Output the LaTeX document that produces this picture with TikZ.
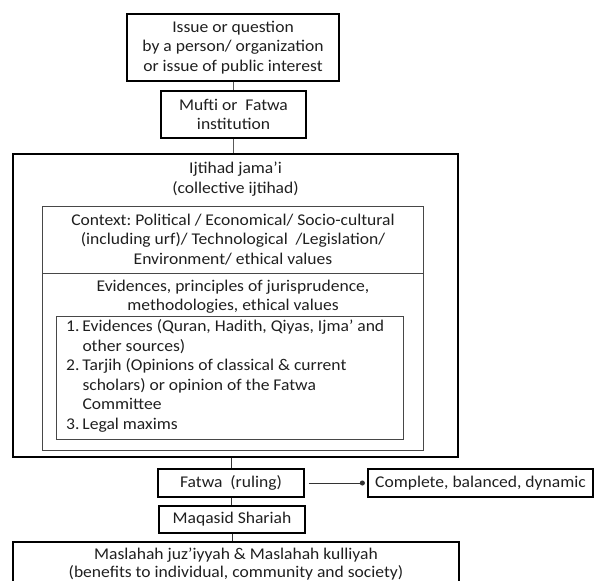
\documentclass[tikz,border=0pt]{standalone}
\usepackage{fontspec}
\setmainfont{Carlito}[FakeStretch=1.07]
\usetikzlibrary{arrows.meta}
\begin{document}
\begin{tikzpicture}[x=1bp,y=-1bp,
  box/.style={draw=black, line width=1.3bp, inner sep=0pt, align=center},
  gbox/.style={draw=black!72, line width=1bp, inner sep=0pt, align=center},
  txt/.style={inner sep=0pt, align=center},
  conn/.style={draw=black!65, line width=1bp},
  font=\fontsize{16.4bp}{19.5bp}\selectfont, text=black!88]
\useasboundingbox (0,0) rectangle (595,581);

\node[box, minimum width=212bp, minimum height=67bp] (issue) at (233,47.5)
  {Issue or question\\by a person/ organization\\or issue of public interest};
\node[box, minimum width=145bp, minimum height=47bp] (mufti) at (233.5,114.5)
  {Mufti or\ \ Fatwa\\institution};

\node[box, minimum width=445bp, minimum height=303bp] (ijt) at (235.5,305.5) {};
\node[txt] (ijttitle) at (235.5,179) {Ijtihad jama’i\\(collective ijtihad)};

\node[gbox, minimum width=380bp, minimum height=67bp] (context) at (233,239.5)
  {Context:\ Political / Economical/\ Socio-cultural\\(including urf)/ Technological\ \ /Legislation/\\Environment/\ ethical\ values};
\node[gbox, minimum width=380bp, minimum height=177bp] (evid) at (233,361.5) {};
\node[txt] (evidhead) at (233,296.5) {Evidences, principles of jurisprudence,\\methodologies,\ ethical\ values};
\node[gbox, minimum width=346bp, minimum height=123bp] (listbox) at (230,377.5) {};
\node[txt, anchor=west, align=left] (listtxt) at (66,376)
  {\makebox[16.3bp][l]{1.}Evidences (Quran, Hadith, Qiyas, Ijma’ and\\
   \hspace*{16.3bp}other sources)\\
   \makebox[16.3bp][l]{2.}Tarjih (Opinions of classical \& current\\
   \hspace*{16.3bp}scholars) or opinion of the Fatwa\\
   \hspace*{16.3bp}Committee\\
   \makebox[16.3bp][l]{3.}Legal maxims};

\node[box, minimum width=146bp, minimum height=28bp] (fatwa) at (231,483) {Fatwa\ \ (ruling)};
\node[box, minimum width=225bp, minimum height=28bp] (complete) at (480.5,483) {Complete,\ balanced,\ dynamic};
\node[box, minimum width=146bp, minimum height=27bp] (maqasid) at (232,519.5) {Maqasid\ Shariah};
\node[box, minimum width=446bp, minimum height=60bp] (maslahah) at (236,572) {};
\node[txt, font=\fontsize{16.4bp}{18bp}\selectfont] (maslahahtxt) at (236,564) {Maslahah juz’iyyah \& Maslahah kulliyah\\(benefits to individual,\ community and society)};

\draw[conn] (issue.south) -- (issue.south |- mufti.north);
\draw[conn] (mufti.south) -- (mufti.south |- ijt.north);
\draw[conn, draw=black!80] (fatwa.north |- ijt.south) -- (fatwa.north);
\draw[conn, draw=black!80] (fatwa.south) -- (fatwa.south |- maqasid.north);
\draw[conn, draw=black!80] (maqasid.south) -- (maqasid.south |- maslahah.north);
\draw[conn, draw=black!80, -{Circle[length=5bp,width=5bp]}, shorten <=4bp, shorten >=2.5bp] (fatwa.east) -- (complete.west);
\end{tikzpicture}
\end{document}
